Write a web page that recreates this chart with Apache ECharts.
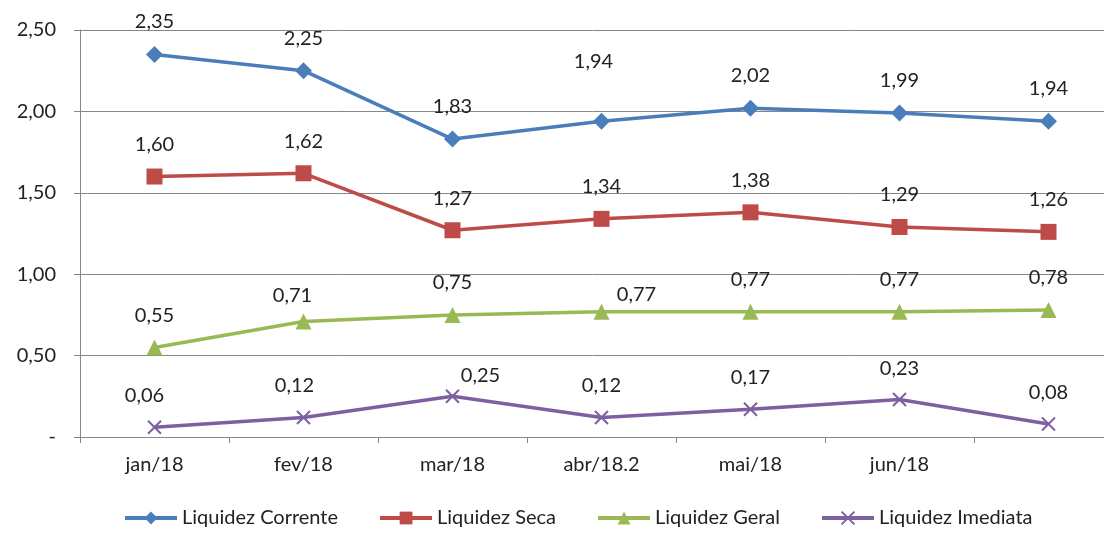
<!DOCTYPE html>
<html>
<head>
<meta charset="utf-8">
<script src="https://cdn.jsdelivr.net/npm/echarts@6/dist/echarts.min.js"></script>
<style>
  html, body { margin: 0; padding: 0; background: #fff; }
  #chart { width: 1104px; height: 543px; }
</style>
</head>
<body>
<div id="chart"></div>
<script>
// categories (last one has no label in the source)
var months = ['jan/18', 'fev/18', 'mar/18', 'abr/18.2', 'mai/18', 'jun/18', ''];

var liquidezCorrente = [2.35, 2.25, 1.83, 1.94, 2.02, 1.99, 1.94];
var liquidezSeca = [1.60, 1.62, 1.27, 1.34, 1.38, 1.29, 1.26];
var liquidezGeral = [0.55, 0.71, 0.75, 0.77, 0.77, 0.77, 0.78];
var liquidezImediata = [0.06, 0.12, 0.25, 0.12, 0.17, 0.23, 0.08];

// labels that were dragged by hand in the original chart: [series, index, dx, dy]
var movedLabels = [
  ['Liquidez Corrente', 3, -8, -27],
  ['Liquidez Geral', 1, -11, 6],
  ['Liquidez Geral', 3, 35, 15],
  ['Liquidez Imediata', 0, -10, 0],
  ['Liquidez Imediata', 1, -9, 0],
  ['Liquidez Imediata', 2, 28, 11]
]

var fontFamily = 'Lato, "Liberation Sans", sans-serif'

function fmt(v) {
  return v.toFixed(2).replace('.', ',')
}

function buildData(name, values) {
  return values.map(function(v, i) {
    var item = { value: v }
    movedLabels.forEach(function(m) {
      if (m[0] === name && m[1] === i) {
        item.label = { offset: [m[2], m[3]] }
      }
    })
    return item
  })
}

function makeSeries(name, values, color, symbol, symbolSize) {
  return {
    name: name,
    type: 'line',
    data: buildData(name, values),
    symbol: symbol,
    symbolSize: symbolSize,
    lineStyle: { color: color, width: 3.5 },
    itemStyle: { color: color, borderColor: color, borderWidth: symbol.indexOf('path') === 0 ? 2 : 0 },
    label: {
      show: true,
      position: 'top',
      distance: 14,
      color: '#222',
      fontSize: 20,
      fontFamily: fontFamily,
      formatter: function(p) { return fmt(p.value) }
    },
    animation: false
  }
}

var chart = echarts.init(document.getElementById('chart'))

chart.setOption({
  backgroundColor: '#fff',
  grid: {
    left: 80,
    width: 1043,
    top: 30,
    height: 407,
    outerBoundsMode: 'none',
    containLabel: false
  },
  legend: {
    bottom: 10,
    left: 118,
    itemWidth: 52,
    itemHeight: 16,
    itemGap: 40,
    lineStyle: { width: 4 },
    textStyle: { fontSize: 20, fontFamily: fontFamily, color: '#222' },
    data: ['Liquidez Corrente', 'Liquidez Seca', 'Liquidez Geral', 'Liquidez Imediata']
  },
  xAxis: {
    type: 'category',
    data: months,
    boundaryGap: true,
    axisLine: { lineStyle: { color: '#868686', width: 1 } },
    axisTick: { show: true, length: 6, lineStyle: { color: '#868686' } },
    axisLabel: { color: '#222', fontSize: 20, fontFamily: fontFamily, margin: 18 }
  },
  yAxis: {
    type: 'value',
    min: 0,
    max: 2.5,
    interval: 0.5,
    axisLine: { show: true, lineStyle: { color: '#868686' } },
    axisTick: { show: true, length: 6, inside: false, lineStyle: { color: '#868686' } },
    splitLine: { lineStyle: { color: '#868686', width: 1 } },
    axisLabel: {
      color: '#222',
      fontSize: 20,
      fontFamily: fontFamily,
      margin: 24,
      formatter: function(v) { return v === 0 ? '-' : fmt(v) }
    }
  },
  series: [
    makeSeries('Liquidez Corrente', liquidezCorrente, '#4A7EBB', 'diamond', 17),
    makeSeries('Liquidez Seca', liquidezSeca, '#BE4B48', 'rect', 16),
    makeSeries('Liquidez Geral', liquidezGeral, '#98B954', 'triangle', 16),
    makeSeries('Liquidez Imediata', liquidezImediata, '#7D60A0', 'path://M0,0L10,10M10,0L0,10', 13)
  ]
})
</script>
</body>
</html>
